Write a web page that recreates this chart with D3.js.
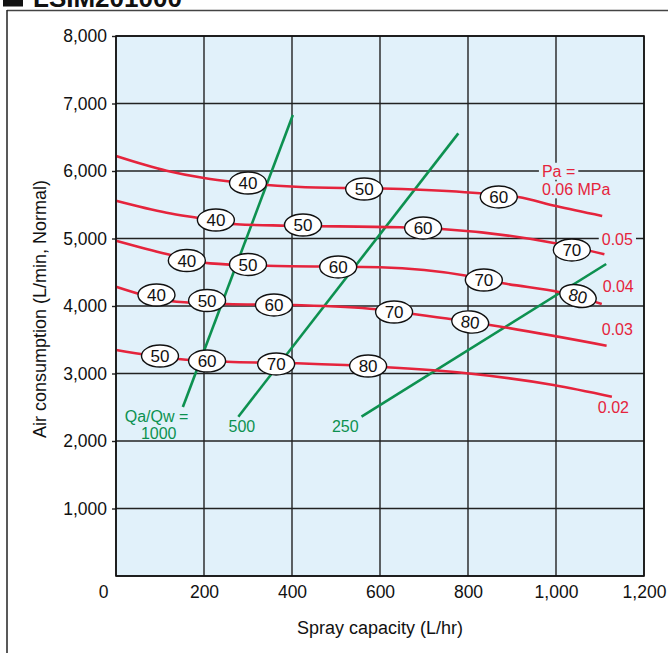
<!DOCTYPE html>
<html>
<head>
<meta charset="utf-8">
<script src="https://cdn.jsdelivr.net/npm/d3@7"></script>
<style>
  html, body { margin: 0; padding: 0; background: #fff; }
  svg { display: block; font-family: "Liberation Sans", Arial, Helvetica, sans-serif; }
</style>
</head>
<body>
<svg id="chart" width="668" height="653"></svg>
<script>
// ---------- DATA ----------
const chartTitle = "LSIM201000";
const xTicks = [0, 200, 400, 600, 800, 1000, 1200];
const yTicks = [0, 1000, 2000, 3000, 4000, 5000, 6000, 7000, 8000];
const yTickLabels = [1000, 2000, 3000, 4000, 5000, 6000, 7000, 8000];
const xTitle = "Spray capacity (L/hr)";
const yTitle = "Air consumption (L/min, Normal)";

// Pressure curves (Pa, MPa): [spray capacity, air consumption]
const curve006 = [[0,6222],[115,6004],[200,5896],[270,5837],[420,5763],[650,5733],[827,5670],[914,5615],[1000,5480],[1105,5333]];
const curve005 = [[0,5560],[115,5382],[192,5299],[274,5210],[388,5190],[645,5166],[740,5141],[998,4929],[1110,4766]];
const curve004 = [[0,4967],[115,4770],[214,4632],[342,4597],[600,4575],[797,4449],[880,4336],[1009,4203],[1104,4030]];
const curve003 = [[0,4286],[138,4064],[252,4030],[403,4015],[592,3951],[680,3877],[850,3719],[1115,3412]];
const curve002 = [[0,3348],[142,3215],[252,3175],[411,3151],[615,3092],[797,3003],[994,2830],[1127,2656]];
const pressureCurves = [curve006, curve005, curve004, curve003, curve002];

// Markers on each curve: [x, y, label, tilt°]
const marks006 = [[300,5822,"40",0],[564,5733,"50",0],[870,5615,"60",0]];
const marks005 = [[227,5274,"40",0],[425,5200,"50",0],[698,5156,"60",0],[1036,4830,"70",0]];
const marks004 = [[161,4674,"40",0],[300,4615,"50",0],[505,4578,"60",0],[836,4385,"70",0],[1050,4148,"80",13]];
const marks003 = [[92,4163,"40",0],[207,4081,"50",0],[359,4015,"60",0],[632,3911,"70",0],[805,3763,"80",6]];
const marks002 = [[100,3259,"50",0],[207,3185,"60",0],[364,3141,"70",0],[573,3111,"80",0]];
const curveMarks = [marks006, marks005, marks004, marks003, marks002];

// Pressure labels: [x, y, text]
const pressureLabels = [[968,6000,"Pa ="],[968,5725,"0.06 MPa"],[1104,4983,"0.05"],[1106,4298,"0.04"],[1104,3663,"0.03"],[1095,2496,"0.02"]];

// Qa/Qw ratio lines: [start, end]
const ratio1000 = [[152,2504],[402,6830]];
const ratio500  = [[278,2360],[778,6558]];
const ratio250  = [[558,2360],[1114,4622]];
const ratioLines = [ratio1000, ratio500, ratio250];
const ratioLabels = [[92,2370,"Qa/Qw ="],[97,2113,"1000"],[286,2212,"500"],[521,2212,"250"]];

// ---------- DRAW ----------
const RED = "#e5243c", GREEN = "#0d9150", BG = "#e1f1fa";
const svg = d3.select("#chart");
const x = d3.scaleLinear().domain([0, 1200]).range([116, 644]);
const y = d3.scaleLinear().domain([0, 8000]).range([576, 36]);

// outer frame
svg.append("line").attr("x1", 7).attr("x2", 668).attr("y1", 10.5).attr("y2", 10.5)
  .attr("stroke", "#444").attr("stroke-width", 1.5);
svg.append("line").attr("x1", 7).attr("x2", 7).attr("y1", 10).attr("y2", 653)
  .attr("stroke", "#222").attr("stroke-width", 1.5);

// title
svg.append("rect").attr("x", 3).attr("y", -16).attr("width", 20).attr("height", 22.5).attr("fill", "#111");
svg.append("text").attr("x", 33).attr("y", 6.5).attr("font-size", 26).attr("font-weight", "bold")
  .attr("fill", "#111").text(chartTitle);

// plot background
svg.append("rect").attr("x", x(0)).attr("y", y(8000))
  .attr("width", x(1200) - x(0)).attr("height", y(0) - y(8000)).attr("fill", BG);

// grid
const grid = svg.append("g").attr("stroke", "#222").attr("stroke-width", 1.4);
grid.selectAll("line.v").data(xTicks).join("line").attr("class", "v")
  .attr("x1", d => x(d)).attr("x2", d => x(d)).attr("y1", y(8000)).attr("y2", y(0));
grid.selectAll("line.h").data(yTicks).join("line").attr("class", "h")
  .attr("x1", x(0)).attr("x2", x(1200)).attr("y1", d => y(d)).attr("y2", d => y(d));

// label background patches (cover grid like the reference)
const plab = svg.append("g");

// y axis
const yAxis = svg.append("g").attr("transform", `translate(${x(0)},0)`)
  .call(d3.axisLeft(y).tickValues(yTickLabels).tickSize(4).tickPadding(5).tickFormat(d3.format(",")));
yAxis.select(".domain").remove();
yAxis.selectAll("line").attr("stroke", "#222").attr("stroke-width", 1.4);
yAxis.selectAll("text").attr("font-size", 17.5).attr("fill", "#111")
  .attr("font-family", "'Liberation Sans', Arial, sans-serif");

// x axis
const xAxis = svg.append("g").attr("transform", `translate(0,${y(0)})`)
  .call(d3.axisBottom(x).tickValues(xTicks).tickSize(0).tickPadding(10).tickFormat(d3.format(",")));
xAxis.select(".domain").remove();
xAxis.selectAll("text").attr("font-size", 17.5).attr("fill", "#111")
  .attr("font-family", "'Liberation Sans', Arial, sans-serif")
  .attr("dx", d => d === 0 ? -13 : 0);

// axis titles
svg.append("text").attr("x", 380).attr("y", 634).attr("text-anchor", "middle")
  .attr("font-size", 18).attr("fill", "#111").text(xTitle);
svg.append("text").attr("transform", "translate(46,309) rotate(-90)").attr("text-anchor", "middle")
  .attr("font-size", 18).attr("fill", "#111").text(yTitle);

// ratio lines
svg.append("g").selectAll("line").data(ratioLines).join("line")
  .attr("x1", d => x(d[0][0])).attr("y1", d => y(d[0][1]))
  .attr("x2", d => x(d[1][0])).attr("y2", d => y(d[1][1]))
  .attr("stroke", GREEN).attr("stroke-width", 2.6);

// pressure curves
const lineGen = d3.line().x(d => x(d[0])).y(d => y(d[1])).curve(d3.curveMonotoneX);
svg.append("g").selectAll("path").data(pressureCurves).join("path")
  .attr("d", lineGen).attr("fill", "none").attr("stroke", RED).attr("stroke-width", 2.6);

// ellipse markers
const allMarks = curveMarks.flat();
const mg = svg.append("g").selectAll("g").data(allMarks).join("g")
  .attr("transform", d => `translate(${x(d[0])},${y(d[1])}) rotate(${d[3]})`);
mg.append("ellipse").attr("rx", 18.5).attr("ry", 11).attr("fill", "#fff")
  .attr("stroke", "#111").attr("stroke-width", 1.4);
mg.append("text").attr("text-anchor", "middle").attr("dy", "0.36em")
  .attr("font-size", 17).attr("fill", "#111").text(d => d[2]);

// pressure labels with background patches
const pl = svg.append("g").selectAll("text").data(pressureLabels).join("text")
  .attr("x", d => x(d[0])).attr("y", d => y(d[1])).attr("dy", "0.36em")
  .attr("font-size", 16).attr("fill", RED).text(d => d[2]);
pl.each(function() {
  const b = this.getBBox();
  plab.append("rect").attr("x", b.x - 3).attr("y", b.y).attr("width", b.width + 6)
    .attr("height", b.height).attr("fill", BG);
});

// ratio labels
svg.append("g").selectAll("text").data(ratioLabels).join("text")
  .attr("x", d => x(d[0])).attr("y", d => y(d[1])).attr("dy", "0.36em")
  .attr("text-anchor", "middle").attr("font-size", 16).attr("fill", GREEN).text(d => d[2]);

// plot border
svg.append("rect").attr("x", x(0)).attr("y", y(8000))
  .attr("width", x(1200) - x(0)).attr("height", y(0) - y(8000))
  .attr("fill", "none").attr("stroke", "#111").attr("stroke-width", 1.6);
</script>
</body>
</html>
